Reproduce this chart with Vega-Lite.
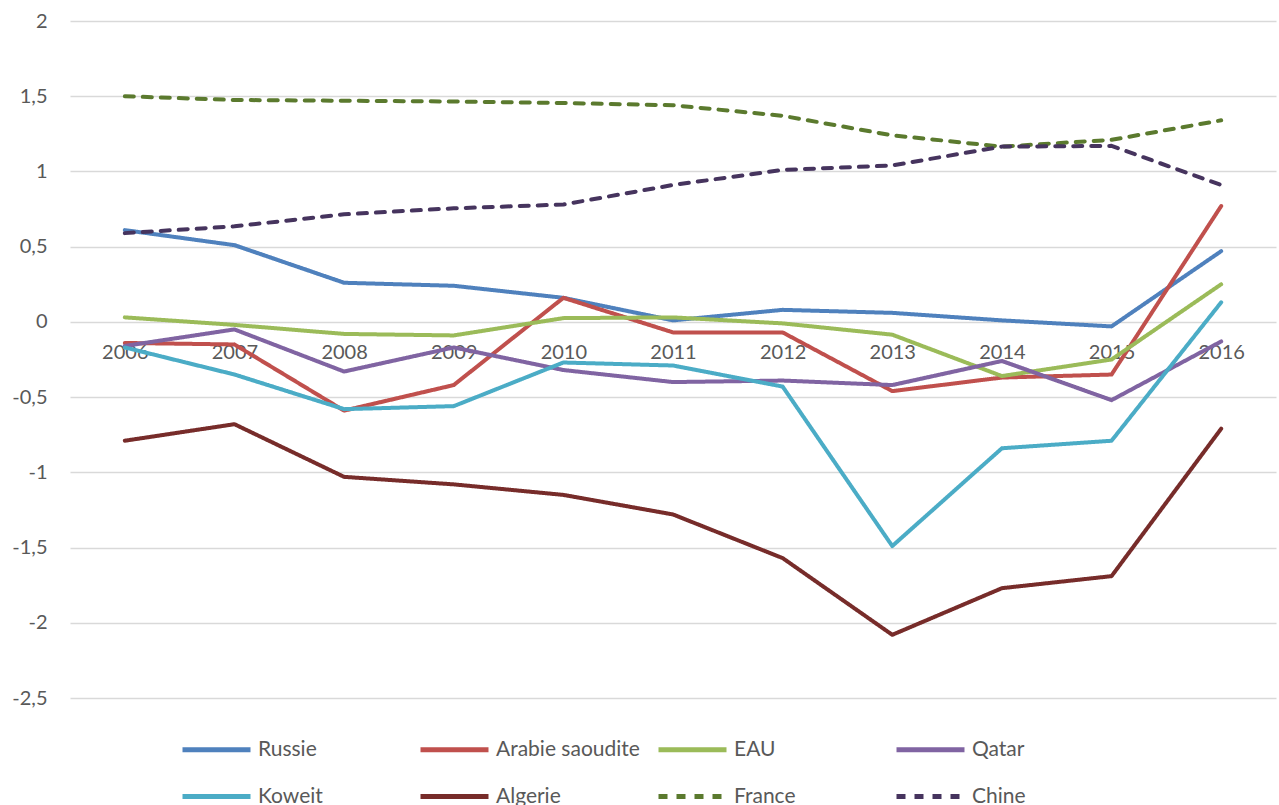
{
  "$schema": "https://vega.github.io/schema/vega-lite/v6.json",
  "width": 1206,
  "height": 677,
  "autosize": {"type": "none"},
  "padding": {"left": 70, "top": 21, "right": 3, "bottom": 107},
  "background": "white",
  "config": {
    "view": {"stroke": null},
    "font": "Lato",
    "axis": {"labelFont": "Lato", "labelColor": "#595959"},
    "legend": {"labelFont": "Lato", "labelColor": "#595959"}
  },
  "data": {
    "values": [
      {"year": "2006", "series": "Russie", "value": 0.61},
      {"year": "2007", "series": "Russie", "value": 0.51},
      {"year": "2008", "series": "Russie", "value": 0.26},
      {"year": "2009", "series": "Russie", "value": 0.24},
      {"year": "2010", "series": "Russie", "value": 0.16},
      {"year": "2011", "series": "Russie", "value": 0.01},
      {"year": "2012", "series": "Russie", "value": 0.08},
      {"year": "2013", "series": "Russie", "value": 0.06},
      {"year": "2014", "series": "Russie", "value": 0.01},
      {"year": "2015", "series": "Russie", "value": -0.03},
      {"year": "2016", "series": "Russie", "value": 0.47},

      {"year": "2006", "series": "Arabie saoudite", "value": -0.14},
      {"year": "2007", "series": "Arabie saoudite", "value": -0.15},
      {"year": "2008", "series": "Arabie saoudite", "value": -0.59},
      {"year": "2009", "series": "Arabie saoudite", "value": -0.42},
      {"year": "2010", "series": "Arabie saoudite", "value": 0.16},
      {"year": "2011", "series": "Arabie saoudite", "value": -0.07},
      {"year": "2012", "series": "Arabie saoudite", "value": -0.07},
      {"year": "2013", "series": "Arabie saoudite", "value": -0.46},
      {"year": "2014", "series": "Arabie saoudite", "value": -0.37},
      {"year": "2015", "series": "Arabie saoudite", "value": -0.35},
      {"year": "2016", "series": "Arabie saoudite", "value": 0.77},

      {"year": "2006", "series": "EAU", "value": 0.03},
      {"year": "2007", "series": "EAU", "value": -0.02},
      {"year": "2008", "series": "EAU", "value": -0.08},
      {"year": "2009", "series": "EAU", "value": -0.09},
      {"year": "2010", "series": "EAU", "value": 0.025},
      {"year": "2011", "series": "EAU", "value": 0.03},
      {"year": "2012", "series": "EAU", "value": -0.01},
      {"year": "2013", "series": "EAU", "value": -0.085},
      {"year": "2014", "series": "EAU", "value": -0.36},
      {"year": "2015", "series": "EAU", "value": -0.25},
      {"year": "2016", "series": "EAU", "value": 0.25},

      {"year": "2006", "series": "Qatar", "value": -0.16},
      {"year": "2007", "series": "Qatar", "value": -0.05},
      {"year": "2008", "series": "Qatar", "value": -0.33},
      {"year": "2009", "series": "Qatar", "value": -0.17},
      {"year": "2010", "series": "Qatar", "value": -0.32},
      {"year": "2011", "series": "Qatar", "value": -0.40},
      {"year": "2012", "series": "Qatar", "value": -0.39},
      {"year": "2013", "series": "Qatar", "value": -0.42},
      {"year": "2014", "series": "Qatar", "value": -0.26},
      {"year": "2015", "series": "Qatar", "value": -0.52},
      {"year": "2016", "series": "Qatar", "value": -0.13},

      {"year": "2006", "series": "Koweit", "value": -0.17},
      {"year": "2007", "series": "Koweit", "value": -0.35},
      {"year": "2008", "series": "Koweit", "value": -0.58},
      {"year": "2009", "series": "Koweit", "value": -0.56},
      {"year": "2010", "series": "Koweit", "value": -0.27},
      {"year": "2011", "series": "Koweit", "value": -0.29},
      {"year": "2012", "series": "Koweit", "value": -0.43},
      {"year": "2013", "series": "Koweit", "value": -1.49},
      {"year": "2014", "series": "Koweit", "value": -0.84},
      {"year": "2015", "series": "Koweit", "value": -0.79},
      {"year": "2016", "series": "Koweit", "value": 0.13},

      {"year": "2006", "series": "Algerie", "value": -0.79},
      {"year": "2007", "series": "Algerie", "value": -0.68},
      {"year": "2008", "series": "Algerie", "value": -1.03},
      {"year": "2009", "series": "Algerie", "value": -1.08},
      {"year": "2010", "series": "Algerie", "value": -1.15},
      {"year": "2011", "series": "Algerie", "value": -1.28},
      {"year": "2012", "series": "Algerie", "value": -1.57},
      {"year": "2013", "series": "Algerie", "value": -2.08},
      {"year": "2014", "series": "Algerie", "value": -1.77},
      {"year": "2015", "series": "Algerie", "value": -1.69},
      {"year": "2016", "series": "Algerie", "value": -0.71},

      {"year": "2006", "series": "France", "value": 1.50},
      {"year": "2007", "series": "France", "value": 1.475},
      {"year": "2008", "series": "France", "value": 1.47},
      {"year": "2009", "series": "France", "value": 1.465},
      {"year": "2010", "series": "France", "value": 1.455},
      {"year": "2011", "series": "France", "value": 1.44},
      {"year": "2012", "series": "France", "value": 1.37},
      {"year": "2013", "series": "France", "value": 1.24},
      {"year": "2014", "series": "France", "value": 1.165},
      {"year": "2015", "series": "France", "value": 1.21},
      {"year": "2016", "series": "France", "value": 1.34},

      {"year": "2006", "series": "Chine", "value": 0.59},
      {"year": "2007", "series": "Chine", "value": 0.635},
      {"year": "2008", "series": "Chine", "value": 0.715},
      {"year": "2009", "series": "Chine", "value": 0.755},
      {"year": "2010", "series": "Chine", "value": 0.78},
      {"year": "2011", "series": "Chine", "value": 0.91},
      {"year": "2012", "series": "Chine", "value": 1.01},
      {"year": "2013", "series": "Chine", "value": 1.04},
      {"year": "2014", "series": "Chine", "value": 1.165},
      {"year": "2015", "series": "Chine", "value": 1.17},
      {"year": "2016", "series": "Chine", "value": 0.91}
    ]
  },
  "mark": {"type": "line", "strokeWidth": 4, "strokeCap": "round", "strokeJoin": "round"},
  "encoding": {
    "x": {
      "field": "year",
      "type": "ordinal",
      "scale": {"type": "point", "padding": 0.5},
      "axis": {
        "title": null,
        "domain": false,
        "ticks": false,
        "tickSize": 0,
        "grid": false,
        "offset": -376,
        "labelAngle": 0,
        "labelFontSize": 20,
        "labelPadding": 20,
        "labelBaseline": "top"
      }
    },
    "y": {
      "field": "value",
      "type": "quantitative",
      "scale": {"domain": [-2.5, 2], "nice": false, "zero": false},
      "axis": {
        "title": null,
        "values": [-2.5, -2, -1.5, -1, -0.5, 0, 0.5, 1, 1.5, 2],
        "domain": false,
        "ticks": false,
        "tickSize": 0,
        "grid": true,
        "gridColor": "#D9D9D9",
        "gridWidth": 1.5,
        "labelFontSize": 20,
        "labelPadding": 23,
        "labelExpr": "replace(toString(datum.value), '.', ',')"
      }
    },
    "color": {
      "field": "series",
      "type": "nominal",
      "sort": null,
      "scale": {
        "domain": ["Russie", "Arabie saoudite", "EAU", "Qatar", "Koweit", "Algerie", "France", "Chine"],
        "range": ["#4F81BD", "#C0504D", "#9BBB59", "#8064A2", "#4BACC6", "#772C2A", "#5B7A2E", "#46345E"]
      },
      "legend": {
        "title": null,
        "orient": "none",
        "legendX": 110,
        "legendY": 692,
        "direction": "horizontal",
        "columns": 4,
        "gridAlign": "all",
        "symbolType": "stroke",
        "symbolSize": 4624,
        "symbolStrokeWidth": 5,
        "labelFontSize": 21,
        "labelOffset": 5,
        "columnPadding": 8,
        "rowPadding": -25,
        "padding": 0
      }
    },
    "strokeDash": {
      "field": "series",
      "type": "nominal",
      "sort": null,
      "scale": {
        "domain": ["Russie", "Arabie saoudite", "EAU", "Qatar", "Koweit", "Algerie", "France", "Chine"],
        "range": [[1, 0], [1, 0], [1, 0], [1, 0], [1, 0], [1, 0], [9, 9], [9, 9]]
      },
      "legend": {
        "title": null,
        "orient": "none",
        "legendX": 110,
        "legendY": 692,
        "direction": "horizontal",
        "columns": 4,
        "gridAlign": "all",
        "symbolType": "stroke",
        "symbolSize": 4624,
        "symbolStrokeWidth": 5,
        "labelFontSize": 21,
        "labelOffset": 5,
        "columnPadding": 8,
        "rowPadding": -25,
        "padding": 0
      }
    }
  }
}
